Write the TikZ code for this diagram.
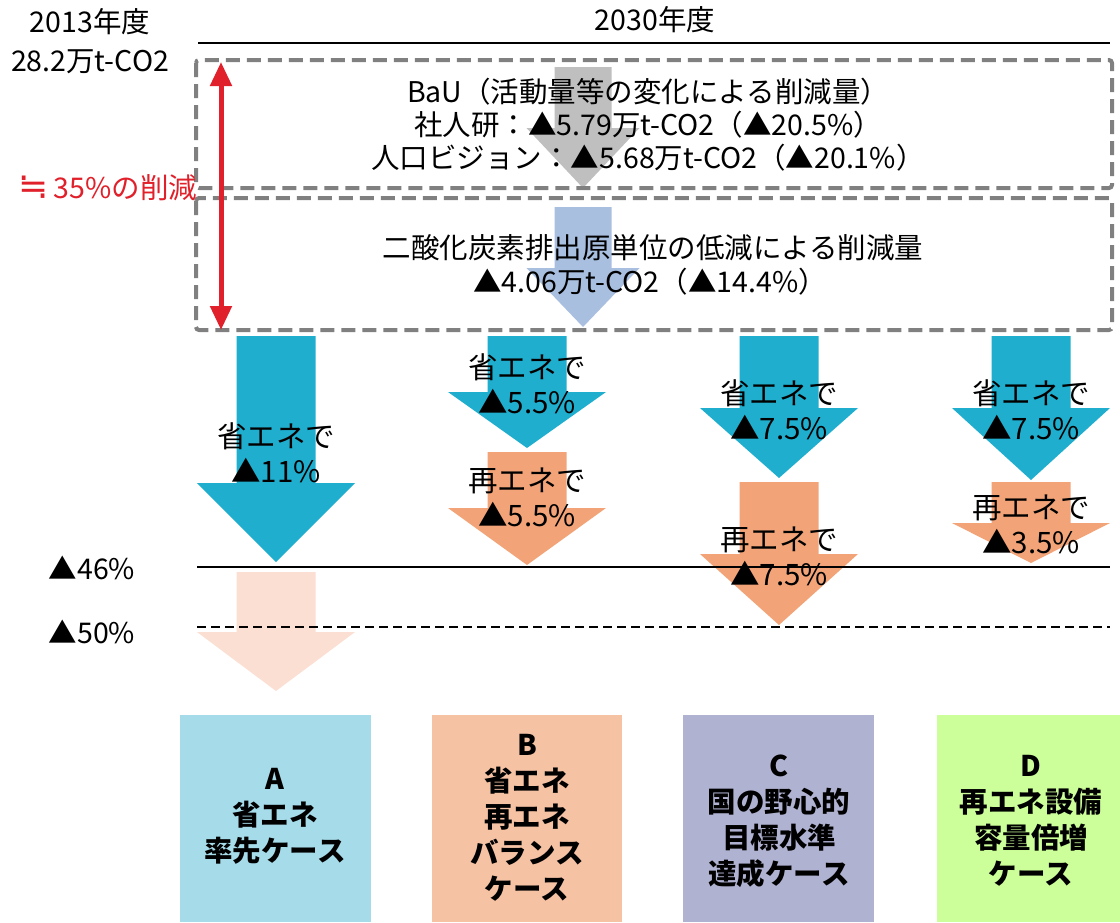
\documentclass[tikz,border=0pt]{standalone}
\usepackage{fontspec}
\setmainfont{Noto Sans CJK JP}
\newfontfamily\symfnt{DejaVu Sans}
\usetikzlibrary{arrows.meta}
\definecolor{bauGray}{HTML}{BFBFBF}
\definecolor{intBlue}{HTML}{A9BFE0}
\definecolor{seBlue}{HTML}{20AECE}
\definecolor{reOrange}{HTML}{F2A478}
\definecolor{palePink}{HTML}{FBDFD2}
\definecolor{boxGray}{HTML}{808080}
\definecolor{redMark}{HTML}{E0202A}
\definecolor{caseA}{HTML}{A6DCEA}
\definecolor{caseB}{HTML}{F5C2A4}
\definecolor{caseC}{HTML}{B0B2D2}
\definecolor{caseD}{HTML}{CCFF99}
\newcommand\dnarrow[7]{\fill[#1] ({#2-#3},#5) -- ({#2+#3},#5) -- ({#2+#3},#6) -- ({#2+#4},#6) -- (#2,#7) -- ({#2-#4},#6) -- ({#2-#3},#6) -- cycle;}
\tikzset{
  lbl/.style={inner sep=0pt, align=center, font=\fontsize{28.5}{34}\selectfont},
  arrlbl/.style={inner sep=0pt, align=center, font=\fontsize{29.5}{35}\selectfont},
  casebox/.style={inner sep=0pt, align=center, font=\bfseries\fontsize{28.5}{36}\selectfont},
  dashbox/.style={draw=boxGray, line width=4pt, dash pattern=on 14pt off 7pt, rounded corners=3pt},
}
\begin{document}
\begin{tikzpicture}[x=1pt,y=-1pt]
\useasboundingbox (0,0) rectangle (1120,922);
% top
\node[lbl] (y2030) at (655,20) {2030年度};
\node[lbl] (y2013) at (90,22) {2013年度};
\node[lbl] (base) at (90,62) {28.2万t-CO2};
\draw[line width=2pt] (198,43) -- (1110,43);
% big arrows in boxes
\dnarrow{bauGray}{583}{28.5}{56.5}{67}{128}{188}
\dnarrow{intBlue}{583}{28.5}{56.5}{207}{268}{327}
% dashed boxes
\draw[dashbox] (196,60) rectangle (1112,188);
\draw[dashbox] (196,198) rectangle (1112,330);
\node[lbl] (bau1) at (648,92) {BaU（活動量等の変化による削減量）};
\node[lbl] (bau2) at (648,125) {社人研：▲5.79万t-CO2（▲20.5\%）};
\node[lbl] (bau3) at (648,158) {人口ビジョン：▲5.68万t-CO2（▲20.1\%）};
\node[lbl] (int1) at (653,248) {二酸化炭素排出原単位の低減による削減量};
\node[lbl] (int2) at (650,282) {▲4.06万t-CO2（▲14.4\%）};
% red arrow
\coordinate (rtop) at (221,62);
\coordinate (rbot) at (221,330);
\draw[redMark, line width=5pt, {Triangle[width=21pt,length=24pt]}-{Triangle[width=21pt,length=24pt]}] (rtop) -- (rbot);
\node[lbl, text=redMark] (cut) at (108,188) {{\symfnt\fontsize{36}{34}\selectfont ≒}\,35\%の削減};
% column arrows
\dnarrow{seBlue}{276}{39.5}{79}{336}{483}{562}
\dnarrow{palePink}{276}{39.5}{79}{572}{632}{691}
\dnarrow{seBlue}{527}{39.5}{79}{336}{392}{448}
\dnarrow{reOrange}{527}{39.5}{79}{452}{508}{565}
\dnarrow{seBlue}{779}{39.5}{79}{336}{408}{478}
\dnarrow{reOrange}{779}{39.5}{79}{482}{554}{625}
\dnarrow{seBlue}{1031}{39.5}{79}{336}{408}{480}
\dnarrow{reOrange}{1031}{39.5}{79}{482}{523}{563}
\node[arrlbl] (aS) at (276,453) {省エネで\\▲11\%};
\node[arrlbl] (bS) at (527,384) {省エネで\\▲5.5\%};
\node[arrlbl] (bR) at (527,497) {再エネで\\▲5.5\%};
\node[arrlbl] (cS) at (779,410) {省エネで\\▲7.5\%};
\node[arrlbl] (cR) at (779,556) {再エネで\\▲7.5\%};
\node[arrlbl] (dS) at (1031,410) {省エネで\\▲7.5\%};
\node[arrlbl] (dR) at (1031,524) {再エネで\\▲3.5\%};
% target lines
\draw[line width=2.5pt] (197,567) -- (1110,567);
\draw[line width=2pt, dash pattern=on 9pt off 5pt] (197,627) -- (1110,627);
\node[lbl] (p46) at (92,568) {▲46\%};
\node[lbl] (p50) at (92,632) {▲50\%};
% case boxes
\fill[caseA] (180,715) rectangle (371,922);
\fill[caseB] (432,715) rectangle (622,922);
\fill[caseC] (683,715) rectangle (874,922);
\fill[caseD] (937,715) rectangle (1120,922);
\node[casebox] (cA) at (275,816) {A\\省エネ\\率先ケース};
\node[casebox] (cB) at (527,818) {B\\省エネ\\再エネ\\バランス\\ケース};
\node[casebox] (cC) at (779,821) {C\\国の野心的\\目標水準\\達成ケース};
\node[casebox] (cD) at (1031,821) {D\\再エネ設備\\容量倍増\\ケース};
\end{tikzpicture}
\end{document}
